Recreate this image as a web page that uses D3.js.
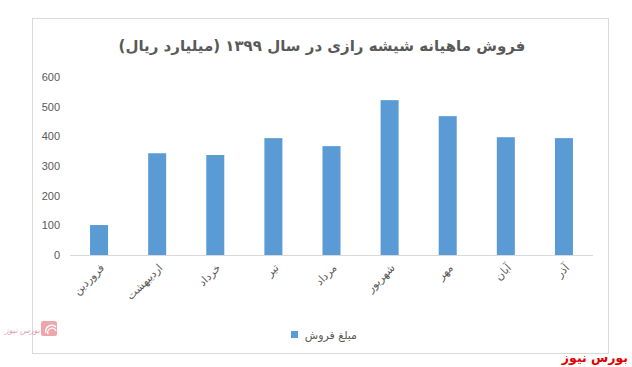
<!DOCTYPE html>
<html><head><meta charset="utf-8">
<script src="https://cdn.jsdelivr.net/npm/d3@7"></script>
<style>body{margin:0;background:#fff}svg{display:block}</style>
</head><body>
<script>
const title = "فروش ماهیانه شیشه رازی در سال ۱۳۹۹ (میلیارد ریال)";
const categories = ["فروردین","اردیبهشت","خرداد","تیر","مرداد","شهریور","مهر","آبان","آذر"];
const values = [101, 343, 337, 394, 367, 522, 468, 397, 394];
const yTicks = [0,100,200,300,400,500,600];
const seriesName = "مبلغ فروش";
const brand = "بورس نیوز";

const W = 632, H = 367;
const svg = d3.select("body").append("svg").attr("width", W).attr("height", H);
const font = "'DejaVu Sans', sans-serif";

// chart border
svg.append("rect").attr("x", 32.5).attr("y", 18.5).attr("width", 576).attr("height", 335)
  .attr("fill", "#fff").attr("stroke", "#d9d9d9");

const x = d3.scaleBand().domain(categories).range([70, 593]).paddingInner(0.69).paddingOuter(0.345);
const y = d3.scaleLinear().domain([0, 600]).range([255, 77]);

svg.append("text").attr("x", 322).attr("y", 51).attr("text-anchor", "middle")
  .attr("font-family", font).attr("font-weight", "bold").attr("font-size", 15)
  .attr("fill", "#595959").text(title);

// bars
svg.append("g").selectAll("rect").data(values).join("rect")
  .attr("x", (d, i) => x(categories[i])).attr("width", x.bandwidth())
  .attr("y", d => y(d)).attr("height", d => y(0) - y(d)).attr("fill", "#5B9BD5");

// y axis
const ya = svg.append("g").attr("transform", "translate(60,0)")
  .call(d3.axisLeft(y).tickValues(yTicks).tickSize(0).tickPadding(0));
ya.select(".domain").remove();
ya.selectAll("text").attr("font-family", "'Liberation Sans', Arial, sans-serif").attr("font-size", 11).attr("fill", "#595959");

// x axis
const xa = svg.append("g").attr("transform", "translate(0,255.5)")
  .call(d3.axisBottom(x).tickSize(0).tickPadding(0));
xa.select(".domain").attr("stroke", "#d9d9d9").attr("d", "M70,0H593");
xa.selectAll("text").attr("font-family", font).attr("font-size", 11).attr("fill", "#595959")
  .attr("text-anchor", "end").attr("dy", 0)
  .attr("transform", "translate(6,13) rotate(-45)");

// legend
svg.append("rect").attr("x", 291).attr("y", 331).attr("width", 7).attr("height", 7).attr("fill", "#5B9BD5");
svg.append("text").attr("x", 357).attr("y", 339).attr("text-anchor", "end")
  .attr("font-family", font).attr("font-size", 11).attr("fill", "#595959").text(seriesName);

// watermark logo
const lg = svg.append("g").attr("opacity", 0.55);
lg.append("rect").attr("x", 41).attr("y", 321).attr("width", 16).attr("height", 15).attr("rx", 2).attr("fill", "#e0606a");
lg.append("path").attr("d", "M46,333 a6,6 0 0 1 10,-6 M48,334 a4,4 0 0 1 8,-3").attr("stroke", "#fff").attr("stroke-width", 1.3).attr("fill", "none");
lg.append("text").attr("x", 40).attr("y", 333).attr("text-anchor", "end").attr("font-family", font)
  .attr("font-size", 8).attr("font-style", "italic").attr("fill", "#d05060").text(brand);

// brand
svg.append("text").attr("x", 628).attr("y", 362).attr("text-anchor", "end")
  .attr("font-family", font).attr("font-weight", "bold").attr("font-size", 12.5).attr("fill", "#e00000").text(brand);
</script>
</body></html>
